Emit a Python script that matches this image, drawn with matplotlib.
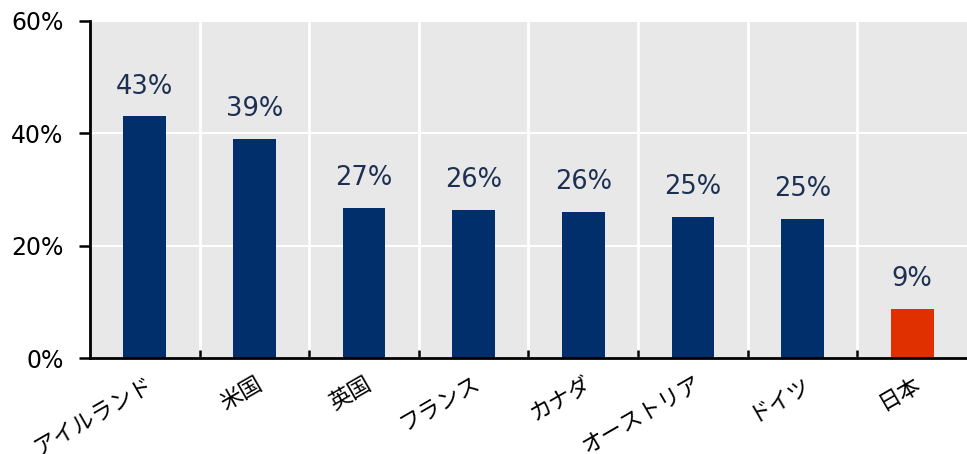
import numpy as np
import matplotlib.pyplot as plt

plt.rcParams['font.family'] = ['DejaVu Sans', 'Noto Sans CJK JP']

countries = ['アイルランド', '米国', '英国', 'フランス', 'カナダ', 'オーストリア', 'ドイツ', '日本']
shares = [43.0, 39.0, 26.8, 26.4, 26.0, 25.1, 24.8, 8.8]
bar_colors = ['#002f6c'] * 7 + ['#e03000']

fig = plt.figure(figsize=(9.67, 4.54), dpi=100)
ax = fig.add_axes([0.093, 0.211, 0.907, 0.743])
ax.set_facecolor('#e8e8e8')

x = np.arange(len(countries))
ax.bar(x, shares, width=0.39, color=bar_colors, zorder=3)

for xi, v in zip(x, shares):
    ax.annotate(f'{v:.0f}%', (xi, v), xytext=(0, 12), textcoords='offset points',
                ha='center', va='bottom', fontsize=18.5, color='#1d3052', zorder=4)

ax.set_xlim(-0.5, len(countries) - 0.5)
ax.set_ylim(0, 60)
ax.set_yticks([0, 20, 40, 60])
ax.set_yticklabels(['0%', '20%', '40%', '60%'], fontsize=17)

ax.set_xticks(x)
ax.set_xticklabels(countries, rotation=30, ha='right', rotation_mode='anchor',
                   fontsize=16, family=['Noto Sans CJK JP'])
ax.set_xticks(x[:-1] + 0.5, minor=True)
ax.tick_params(axis='x', which='major', length=0, pad=10)
ax.tick_params(axis='x', which='minor', direction='in', length=6, width=1.8)
ax.tick_params(axis='y', direction='out', length=8, width=1.8, pad=11)

ax.grid(axis='y', color='white', linewidth=1.5, zorder=1)
ax.grid(axis='x', which='minor', color='white', linewidth=2, zorder=1)
ax.grid(axis='x', which='major', visible=False)
ax.set_axisbelow(True)

for side in ['top', 'right']:
    ax.spines[side].set_visible(False)
for side in ['left', 'bottom']:
    ax.spines[side].set_linewidth(2)
    ax.spines[side].set_zorder(5)

fig.savefig('out.png', dpi=100)
